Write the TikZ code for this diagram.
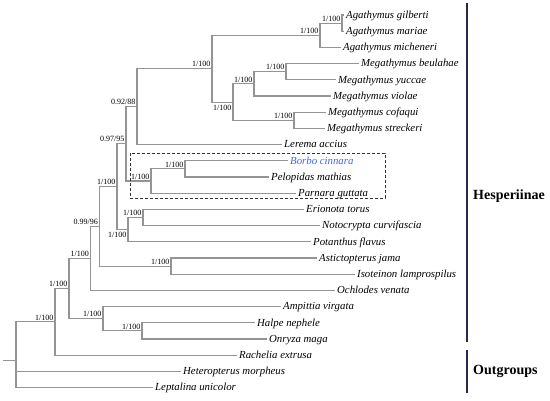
\documentclass[tikz,border=0pt]{standalone}
\usepackage{fontspec}
\setmainfont{Liberation Serif}
\definecolor{borbo}{RGB}{58,102,240}
\definecolor{barcol}{RGB}{40,40,75}
\tikzset{
  branch/.style={line width=1.1pt, black!42},
  leaf/.style={anchor=west, inner xsep=2pt, inner ysep=0pt, text height=8pt, text depth=1.5pt, font=\fontsize{10.8}{12}\selectfont\itshape},
  supa/.style={anchor=base east, inner sep=0pt, xshift=-1.5pt, yshift=1.8pt, font=\fontsize{8}{9}\selectfont},
  supb/.style={anchor=north east, inner sep=0pt, xshift=-1.5pt, yshift=-2.5pt, font=\fontsize{8}{9}\selectfont},
  cladebar/.style={line width=1.3pt, barcol},
  cladename/.style={anchor=west, inner sep=2pt, font=\fontsize{14}{16}\selectfont\bfseries},
  dashbox/.style={dash pattern=on 3pt off 2pt, line width=0.8pt, black!80}
}
\begin{document}
\begin{tikzpicture}[x=1pt, y=-1pt]
\useasboundingbox (0,0) rectangle (550,401);

% leaves, top to bottom
\foreach \n/\x/\txt [count=\i from 0] in {gil/344/Agathymus gilberti, mar/344/Agathymus mariae,
   mic/341/Agathymus micheneri, beu/359/Megathymus beulahae, yuc/336/Megathymus yuccae,
   vio/331/Megathymus violae, cof/326/Megathymus cofaqui, str/325/Megathymus streckeri,
   ler/282/Lerema accius, bor/288/{\color{borbo}Borbo cinnara}, pel/269/Pelopidas mathias,
   par/296/Parnara guttata, eri/304/Erionota torus, not/320/Notocrypta curvifascia,
   pot/311/Potanthus flavus, ast/317/Astictopterus jama, iso/355/Isoteinon lamprospilus,
   och/335/Ochlodes venata, amp/281/Ampittia virgata, hal/255/Halpe nephele,
   onr/267/Onryza maga, rac/237/Rachelia extrusa, het/181/Heteropterus morpheus,
   lep/153/Leptalina unicolor}
   \node[leaf] (\n) at (\x, {15+16.2*\i}) {\txt};

% inner nodes with support values
\foreach \n/\x/\y/\s/\pos in {agm/342/23.1/{1/100}/supa, aga/320/35.25/{1/100}/supa,
   by/286/71.7/{1/100}/supa, byv/254/83.85/{1/100}/supa, cs/294/120.3/{1/100}/supa,
   meg/233/102.1/{1/100}/supb, ma/212/68.7/{1/100}/supa, lm/137/106.6/{0.92/88}/supa,
   bp/185/168.9/{1/100}/supa, box/151/181.05/{1/100}/supa, hm/126/143.8/{0.97/95}/supa,
   en/143/217.5/{1/100}/supa, enp/128/229.65/{1/100}/supb, x1/117/186.7/{1/100}/supa,
   ai/171/266.1/{1/100}/supa, n96/99.5/226.4/{0.99/96}/supa, n90/90.5/258.4/{1/100}/supa,
   ho/142/330.9/{1/100}/supa, aho/103/318.75/{1/100}/supa, n69/69/288.6/{1/100}/supa,
   n55/55/321.9/{1/100}/supa}{
   \coordinate (\n) at (\x,\y);
   \node[\pos] (\n-s) at (\n) {\s};
   }
\coordinate (root) at (16,360.3);
\coordinate (stem) at (3,360.3);

\foreach \p/\c in {agm/gil, agm/mar, aga/agm, aga/mic, by/beu, by/yuc, byv/by, byv/vio,
   cs/cof, cs/str, meg/byv, meg/cs, ma/aga, ma/meg, lm/ma, lm/ler, bp/bor, bp/pel,
   box/bp, box/par, hm/lm, hm/box, en/eri, en/not, enp/en, enp/pot, x1/hm, x1/enp,
   ai/ast, ai/iso, n96/x1, n96/ai, n90/n96, n90/och, ho/hal, ho/onr, aho/amp, aho/ho,
   n69/n90, n69/aho, n55/n69, n55/rac, root/n55, root/het, root/lep}
   \draw[branch] (\p) |- (\c);
\draw[branch] (stem) -- (root);

\draw[dashbox] (130,153) rectangle (385,198);

% clades
\coordinate (hTop) at (467,3);
\coordinate (hBot) at (467,342);
\draw[cladebar] (hTop) -- (hBot);
\node[cladename] (hes) at (471,196) {Hesperiinae};
\coordinate (oTop) at (467,350);
\coordinate (oBot) at (467,393);
\draw[cladebar] (oTop) -- (oBot);
\node[cladename] (outg) at (471,371) {Outgroups};
\end{tikzpicture}
\end{document}
